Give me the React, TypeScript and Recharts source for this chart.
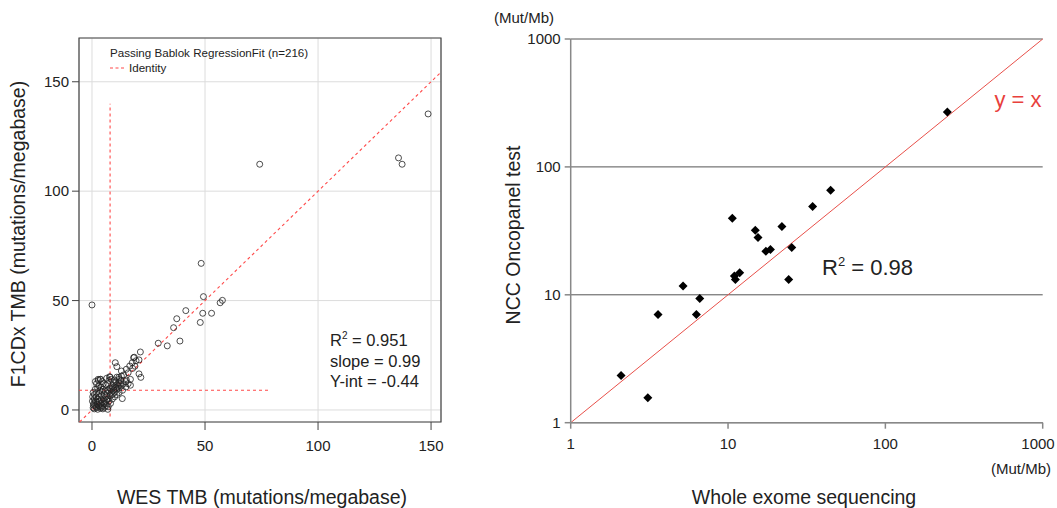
import { ScatterChart, Scatter, XAxis, YAxis, CartesianGrid, ReferenceLine, ReferenceArea } from 'recharts'

const FONT = '"Liberation Sans", Arial, Helvetica, sans-serif'

// WES TMB vs F1CDx TMB (mutations/megabase)
const tmbPairs: [number, number][] = [
  [0.5, 1], [1, 0.5], [1.2, 2], [0.8, 3], [1.5, 4], [2, 1], [2.5, 0.3], [3, 2], [3.5, 1.5], [2.2, 3.5],
  [1, 5], [1.8, 6], [2.8, 5], [3.2, 4], [4, 3], [4.5, 2], [4.8, 0.5], [5.5, 1.2], [6, 3], [6.5, 2],
  [7, 0.3], [5, 5], [4.2, 6.5], [3, 7.5], [2, 8], [1.5, 9.5], [2.5, 10], [3.5, 9], [4.5, 8.5], [5.5, 7],
  [6.2, 6], [7, 5], [7.5, 4], [8, 6.5], [8.5, 8], [9, 7], [9.5, 9], [10, 8], [10.5, 10], [11, 9.5],
  [11.5, 11], [12, 10], [12.5, 12], [13, 11], [14, 12], [15, 13], [9, 11], [8, 10], [7, 9], [6, 8.5],
  [5, 9.5], [4, 10.5], [3, 11], [2, 12], [1.5, 13], [2.8, 13.5], [3.8, 14], [5, 12], [6, 11.5], [7, 12],
  [7.5, 13.5], [8.5, 14], [9.5, 12.5], [10.5, 13], [11, 15], [12, 14], [13, 15.5], [14, 16], [16, 17], [18, 19],
  [19, 20], [6.5, 14.5], [8, 15], [4.5, 13], [0.3, 6], [0.5, 8], [0.2, 4], [1, 7], [3.3, 6], [4, 4.5],
  [5.8, 4], [6.8, 7.5], [7.8, 8.5], [8.8, 9.5], [9.8, 10.5], [10.8, 11.5], [11.8, 12.5], [12.8, 13.5], [13.5, 9], [15, 10.5],
  [16, 12], [17, 14], [2.5, 2.5], [3.8, 0.8], [1.8, 1.5], [0.6, 2.2], [4.3, 1.2], [5.3, 3], [6.6, 4.5], [7.2, 1.5],
  [8.2, 3], [9, 5], [10, 6], [11, 7], [12, 8], [2.7, 14], [3.7, 14], [7.8, 15.2], [10, 13.7], [11.9, 14.9],
  [13.4, 5.2], [15.2, 13.7], [17, 11.3], [10.3, 21.6], [11, 19.8], [13, 17.8], [15.2, 18.6], [16.7, 20.1], [17.8, 21.6], [18.4, 23.9],
  [20.8, 22.9], [21.4, 26.5], [20.8, 16.5], [21.6, 14.9], [18.7, 24.1], [19.5, 22.5], [29.3, 30.5], [33.3, 29.3], [36.1, 37.6], [37.5, 41.7],
  [38.9, 31.5], [41.5, 45.4], [47.9, 40], [49, 44.2], [52.9, 44.2], [49.3, 51.8], [48.3, 67], [56.7, 49], [57.7, 50.1], [0, 48],
  [74.2, 112.3], [135.6, 115.2], [137.2, 112.3], [148.7, 135.3],
]
const tmbPoints = tmbPairs.map(([x, y]) => ({ x, y }))

// Whole exome sequencing vs NCC Oncopanel test (Mut/Mb)
const wesMutMb = [2.09, 3.09, 3.59, 5.18, 6.29, 6.61, 10.65, 10.97, 11.13, 11.86, 14.9, 15.5, 17.4, 18.6, 22.0, 25.4, 24.3, 34.5, 44.9, 247.7]
const nccMutMb = [2.34, 1.57, 7.02, 11.7, 7.02, 9.36, 39.7, 14.0, 13.2, 14.9, 32.0, 28.0, 21.9, 22.6, 34.2, 23.4, 13.2, 49.0, 65.7, 269]
const nccPoints = wesMutMb.map((x, i) => ({ x, y: nccMutMb[i] }))

const linearTicks = [0, 50, 100, 150]
const logTicks = [1, 10, 100, 1000]

const DASH_RED = '#ff4a4a'

const OpenCircle = (props: any) => (
  <circle cx={props.cx} cy={props.cy} r={3} fill="none" stroke="#222" strokeWidth={0.8} />
)

const Diamond = (props: any) => {
  const { cx, cy } = props
  const r = 4.5
  return <polygon points={`${cx},${cy - r} ${cx + r},${cy} ${cx},${cy + r} ${cx - r},${cy}`} fill="#000" />
}

// last label sits against the right edge, nudge it in a little
const LogXTick = (props: any) => {
  const { x, y, payload } = props
  const dx = payload.value === 1000 ? -3 : 0
  return (
    <text x={x + dx} y={y} dy="0.71em" textAnchor="middle" fontSize={15} fill="#222" fontFamily={FONT}>
      {payload.value}
    </text>
  )
}

const textAt = (x: number, y: number, extra: any = {}) => ({
  position: 'absolute' as const,
  left: x,
  top: y,
  transform: 'translate(-50%, -50%)',
  whiteSpace: 'nowrap' as const,
  fontFamily: FONT,
  color: '#222',
  ...extra,
})

export default function App() {
  const tickStyle = { fontSize: 15, fill: '#222', fontFamily: FONT }
  return (
    <div style={{ position: 'absolute', left: 0, top: 0, width: 1057, height: 508, background: '#fff', overflow: 'hidden' }}>
      <div style={{ position: 'absolute', left: 0, top: 0 }}>
        <ScatterChart width={460} height={508} margin={{ top: 38, right: 19, bottom: 56, left: 39 }}>
          <CartesianGrid stroke="#dcdcdc" strokeWidth={1} />
          <XAxis
            type="number"
            dataKey="x"
            domain={[-5.75, 154.4]}
            ticks={linearTicks}
            allowDataOverflow
            height={30}
            axisLine={false}
            tickSize={8}
            tickMargin={10}
            tickLine={{ stroke: '#444' }}
            tick={tickStyle}
          />
          <YAxis
            type="number"
            dataKey="y"
            domain={[-5.5, 170]}
            ticks={linearTicks}
            allowDataOverflow
            width={40}
            axisLine={false}
            tickSize={7}
            tickMargin={3}
            tickLine={{ stroke: '#444' }}
            tick={tickStyle}
          />
          <ReferenceArea x1={-5.75} x2={154.4} y1={-5.5} y2={170} fill="none" stroke="#444" strokeWidth={1.2} ifOverflow="visible" />
          <ReferenceLine segment={[{ x: -5.5, y: -5.5 }, { x: 154.4, y: 154.4 }]} stroke={DASH_RED} strokeWidth={1.1} strokeDasharray="3 3" ifOverflow="visible" />
          <ReferenceLine segment={[{ x: 8, y: -3 }, { x: 8, y: 140 }]} stroke={DASH_RED} strokeWidth={1.1} strokeDasharray="3 3" ifOverflow="visible" />
          <ReferenceLine segment={[{ x: -5.75, y: 9 }, { x: 79, y: 9 }]} stroke={DASH_RED} strokeWidth={1.1} strokeDasharray="3 3" ifOverflow="visible" />
          <Scatter data={tmbPoints} shape={OpenCircle} isAnimationActive={false} />
        </ScatterChart>
      </div>

      <div style={{ position: 'absolute', left: 480, top: 0 }}>
        <ScatterChart width={577} height={508} margin={{ top: 39, right: 14.3, bottom: 55.3, left: 50.7 }}>
          <CartesianGrid stroke="#555" strokeWidth={1} vertical={false} />
          <XAxis
            type="number"
            dataKey="x"
            scale="log"
            domain={[1, 1000]}
            ticks={logTicks}
            allowDataOverflow
            height={30}
            axisLine={{ stroke: '#888', strokeWidth: 1.5 }}
            tickSize={6}
            tickMargin={10}
            tickLine={{ stroke: '#888', strokeWidth: 1.5 }}
            tick={<LogXTick />}
          />
          <YAxis
            type="number"
            dataKey="y"
            scale="log"
            domain={[1, 1000]}
            ticks={logTicks}
            allowDataOverflow
            width={40}
            axisLine={{ stroke: '#888', strokeWidth: 1.5 }}
            tickSize={6}
            tickMargin={4}
            tickLine={{ stroke: '#888', strokeWidth: 1.5 }}
            tick={tickStyle}
          />
          <ReferenceLine segment={[{ x: 1, y: 1 }, { x: 1000, y: 1000 }]} stroke="#e8504a" strokeWidth={1} ifOverflow="visible" />
          <Scatter data={nccPoints} shape={Diamond} isAnimationActive={false} />
        </ScatterChart>
      </div>

      {/* left panel texts */}
      <div style={textAt(18, 234, { fontSize: 19.5, transform: 'translate(-50%, -50%) rotate(-90deg)' })}>F1CDx TMB (mutations/megabase)</div>
      <div style={textAt(262, 497, { fontSize: 19.5 })}>WES TMB (mutations/megabase)</div>
      <div style={{ position: 'absolute', left: 110, top: 46, fontFamily: FONT, fontSize: 11.6, color: '#222', whiteSpace: 'nowrap' }}>
        Passing Bablok RegressionFit (n=216)
      </div>
      <div style={{ position: 'absolute', left: 110, top: 61, fontFamily: FONT, fontSize: 11.6, color: '#222', whiteSpace: 'nowrap', display: 'flex', alignItems: 'center' }}>
        <svg width={16} height={4} style={{ marginRight: 3 }}>
          <line x1={0} y1={2} x2={16} y2={2} stroke={DASH_RED} strokeWidth={1.1} strokeDasharray="3 2.5" />
        </svg>
        Identity
      </div>
      <div style={{ position: 'absolute', left: 330, top: 330, fontFamily: FONT, fontSize: 16.5, lineHeight: '20.5px', color: '#222', whiteSpace: 'nowrap' }}>
        <div>R<sup style={{ fontSize: 10, verticalAlign: 'top', lineHeight: '12px' }}>2</sup> = 0.951</div>
        <div>slope = 0.99</div>
        <div>Y-int = -0.44</div>
      </div>

      {/* right panel texts */}
      <div style={textAt(524, 17, { fontSize: 15 })}>(Mut/Mb)</div>
      <div style={textAt(513, 235, { fontSize: 19.5, transform: 'translate(-50%, -50%) rotate(-90deg)' })}>NCC Oncopanel test</div>
      <div style={textAt(1021, 468, { fontSize: 15 })}>(Mut/Mb)</div>
      <div style={textAt(804, 497, { fontSize: 19.5 })}>Whole exome sequencing</div>
      <div style={textAt(1018, 100, { fontSize: 22, color: '#e8403c' })}>y = x</div>
      <div style={{ position: 'absolute', left: 822, top: 254, fontFamily: FONT, fontSize: 22, color: '#222', whiteSpace: 'nowrap', lineHeight: '28px' }}>
        R<sup style={{ fontSize: 13, verticalAlign: 'top', lineHeight: '16px' }}>2</sup> = 0.98
      </div>
    </div>
  )
}
